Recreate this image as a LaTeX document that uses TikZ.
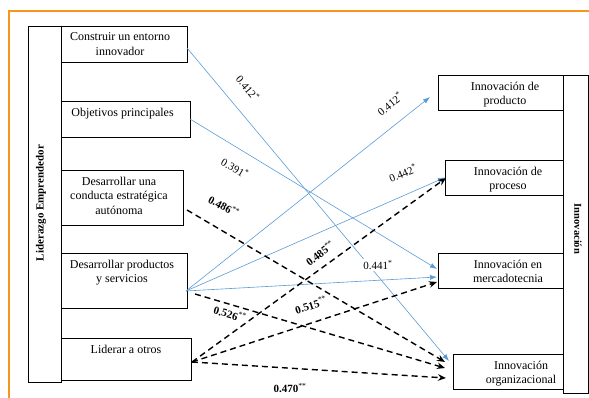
\documentclass[tikz,border=0pt]{standalone}
\usepackage{fontspec}
\setmainfont{Liberation Serif}
\usetikzlibrary{arrows.meta}
\definecolor{frameorange}{RGB}{247,150,30}
\definecolor{pathblue}{RGB}{91,155,213}

\begin{document}
\begin{tikzpicture} [x=1pt, y=-1pt,
                     dim/.style 2 args={minimum width=#1pt, minimum height=#2pt},
                     box/.style= {draw, line width=0.8pt, anchor=north west,
                                  inner sep=0, outer sep=0},
                     boxtext/.style= {anchor=north, inner sep=0, yshift=-6.5pt,
                                      align=center, font=\fontsize{12}{14.5}\selectfont},
                     coef/.style= {inner sep=1pt, font=\fontsize{11}{13}\selectfont},
                     coefb/.style= {coef, font=\fontsize{11}{13}\selectfont\bfseries},
                     bluepath/.style= {pathblue, line width=0.6pt,
                                       -{Latex[length=7pt,width=5pt]}},
                     dashpath/.style= {black, line width=1.4pt, dash pattern=on 6pt off 4pt,
                                       -{Stealth[length=8pt,width=6.5pt]}}]

\useasboundingbox (0,0) rectangle (589,398);
\draw[frameorange, line width=1.5pt] (589,11) -- (9,11) -- (9,398);

% Liderazgo emprendedor
\node (lider) [box, dim={33}{356}] at (28,26) {};
\node (lidertxt) [rotate=90, font=\fontsize{11}{13}\selectfont\bfseries] at (41,203) {Liderazgo Emprendedor};
\node (c1) [box, dim={126}{36}, label={[boxtext, xshift=-4pt]north:Construir un entorno\\innovador}] at (61,26) {};
\node (c2) [box, dim={129}{36}, label={[boxtext, xshift=-3pt]north:Objetivos principales}] at (61,101) {};
\node (c3) [box, dim={122}{55}, label={[boxtext, xshift=-3pt]north:Desarrollar una\\conducta estratégica\\autónoma}] at (61,170) {};
\node (c4) [box, dim={126}{55}, label={[boxtext, xshift=-2pt]north:Desarrollar productos\\y servicios}] at (61,253) {};
\node (c5) [box, dim={130}{42}, label={[boxtext]north:Liderar a otros}] at (61,338) {};

% Innovacion
\node (innov) [box, dim={25}{318}] at (563,75) {};
\node (innovtxt) [rotate=-90, font=\fontsize{10.5}{12}\selectfont\bfseries] at (578,229) {Innovación};
\node (p1) [box, dim={125}{35}, label={[boxtext, xshift=4.5pt]north:Innovación de\\producto}] at (438,75) {};
\node (p2) [box, dim={118}{35}, label={[boxtext, xshift=4pt]north:Innovación de\\proceso}] at (445,160) {};
\node (p3) [box, dim={125}{35}, label={[boxtext, xshift=7.5pt]north:Innovación en\\mercadotecnia}] at (438,253) {};
\node (p4) [box, dim={110}{35}, label={[boxtext, xshift=13pt]north:Innovación\\organizacional}] at (453,354) {};

% relaciones
\draw[bluepath] ([yshift=-4pt]c1.east) -- ([xshift=-4pt,yshift=10.5pt]p4.west);
\draw[bluepath] (c2.east) -- ([xshift=-1pt,yshift=1.5pt]p3.west);
\draw[bluepath] ([xshift=-1pt,yshift=-10.5pt]c4.east) -- ([xshift=-8pt,yshift=-4.5pt]p1.west);
\draw[bluepath] ([xshift=-1pt,yshift=-10.5pt]c4.east) -- (p2.west);
\draw[bluepath] ([xshift=-1pt,yshift=-10.5pt]c4.east) -- ([xshift=-1pt,yshift=-6.5pt]p3.west);

\draw[dashpath] ([xshift=4pt,yshift=-12.5pt]c3.east) -- ([xshift=-8pt,yshift=9.5pt]p4.west);
\draw[dashpath] ([xshift=8pt,yshift=-13.5pt]c4.east) -- ([xshift=-8pt,yshift=3.5pt]p4.west);
\draw[dashpath] ([xshift=1pt,yshift=-3pt]c5.east) -- ([xshift=1pt,yshift=-0.5pt]p2.west);
\draw[dashpath] ([xshift=1pt,yshift=-3pt]c5.east) -- ([xshift=-1pt,yshift=-11.5pt]p3.west);
\draw[dashpath] ([xshift=1pt,yshift=-3pt]c5.east) -- ([xshift=-7pt,yshift=-6.5pt]p4.west);

% coeficientes
\node (w1) [coef, rotate=-50] at (248,88) {0.412\textsuperscript{*}};
\node (w2) [coef, rotate=-30] at (235,168) {0.391\textsuperscript{*}};
\node (w3) [coefb, rotate=-28] at (224,206) {0.486\textsuperscript{\mdseries**}};
\node (w4) [coef, rotate=39] at (390,104) {0.412\textsuperscript{*}};
\node (w5) [coef, rotate=22] at (403,173) {0.442\textsuperscript{*}};
\node (w6) [coefb, rotate=37] at (320,253) {0.485\textsuperscript{\mdseries**}};
\node (w7) [coef, fill=white] at (378,265) {0.441\textsuperscript{*}};
\node (w8) [coefb, rotate=18] at (311,305) {0.515\textsuperscript{\mdseries**}};
\node (w9) [coefb, rotate=-16] at (230,314) {0.526\textsuperscript{\mdseries**}};
\node (w10) [coefb] at (290,388) {0.470\textsuperscript{\mdseries**}};
\end{tikzpicture}
\end{document}
